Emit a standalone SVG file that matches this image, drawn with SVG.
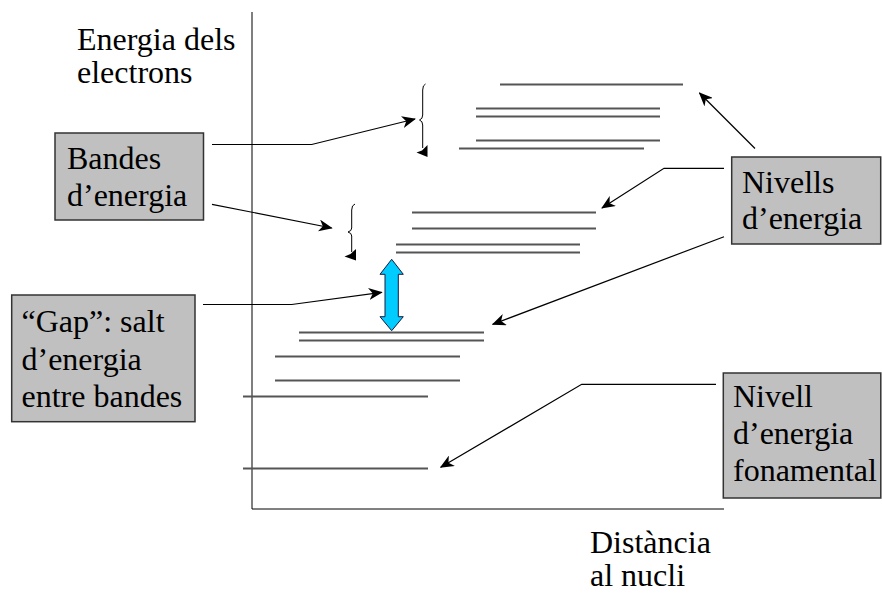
<svg xmlns="http://www.w3.org/2000/svg" width="882" height="593" viewBox="0 0 882 593">
<style>
text{font-family:"Liberation Serif","DejaVu Serif","Noto Serif",serif;font-size:32px;fill:#000}
.box{fill:#C0C0C0;stroke:#333;stroke-width:1.5}
.lvl{stroke:#555;stroke-width:2;fill:none}
.axis{stroke:#000;stroke-width:1;fill:none}
.arrow{stroke:#000;stroke-width:1.2;fill:none;marker-end:url(#ah)}
.brace{stroke:#000;stroke-width:1;fill:none}
</style>
<defs>
<marker id="ah" markerUnits="userSpaceOnUse" viewBox="0 0 14 12" markerWidth="14" markerHeight="12" refX="13" refY="6" orient="auto">
<path d="M0,0 L14,6 L0,12 L4,6 Z" fill="#000"/>
</marker>
</defs>
<rect width="882" height="593" fill="#fff"/>

<g id="axes">
<line class="axis" x1="252" y1="12" x2="252" y2="509"/>
<line class="axis" x1="252" y1="509" x2="724" y2="509"/>
</g>

<g id="levels">
<line class="lvl" x1="500" y1="84.5" x2="683" y2="84.5"/>
<line class="lvl" x1="476" y1="108.5" x2="660" y2="108.5"/>
<line class="lvl" x1="476" y1="116.5" x2="660" y2="116.5"/>
<line class="lvl" x1="476" y1="140.5" x2="660" y2="140.5"/>
<line class="lvl" x1="459" y1="148.5" x2="644" y2="148.5"/>
<line class="lvl" x1="412" y1="212.5" x2="596" y2="212.5"/>
<line class="lvl" x1="412" y1="228.5" x2="596" y2="228.5"/>
<line class="lvl" x1="396" y1="244.5" x2="580" y2="244.5"/>
<line class="lvl" x1="396" y1="252.5" x2="580" y2="252.5"/>
<line class="lvl" x1="299" y1="332.5" x2="484" y2="332.5"/>
<line class="lvl" x1="299" y1="340.5" x2="484" y2="340.5"/>
<line class="lvl" x1="275" y1="356.5" x2="460" y2="356.5"/>
<line class="lvl" x1="275" y1="380.5" x2="460" y2="380.5"/>
<line class="lvl" x1="243" y1="396.5" x2="428" y2="396.5"/>
<line class="lvl" x1="243" y1="468.5" x2="428" y2="468.5"/>
</g>

<g id="brace1">
<path class="brace" d="M425.5,84 Q422.7,85 422.7,90 L422.7,115 Q422.7,119 419.5,120 Q422.7,121 422.7,125 L422.7,148"/>
<path d="M427.5,145 L427.5,157 L416.5,152.5 L422,150.5 Z" fill="#000"/>
</g>
<g id="brace2">
<path class="brace" d="M355,204 Q351.7,205 351.7,210 L351.7,228 Q351.7,231 348,232 Q351.7,233 351.7,236 L351.7,252"/>
<path d="M356,249 L356,260.5 L344.5,256.5 L350.5,254 Z" fill="#000"/>
</g>

<g id="gap-arrow">
<polygon points="391.7,259.3 403.3,274.3 398.3,274.3 398.3,316.7 403.3,316.7 391.7,330.7 380,316.7 385,316.7 385,274.3 380,274.3" fill="#00CCFF" stroke="#1a1a40" stroke-width="1"/>
</g>

<g id="connectors">
<polyline class="arrow" points="212,144.5 311.7,144.5 415,119"/>
<polyline class="arrow" points="212,204.3 331.7,228"/>
<polyline class="arrow" points="203,304.5 291.7,304.5 381.7,292.3"/>
<polyline class="arrow" points="755,148.5 699.5,93"/>
<polyline class="arrow" points="724,168.3 664,168.3 602,208"/>
<polyline class="arrow" points="724,236.7 492.7,324.3"/>
<polyline class="arrow" points="716,384.3 581.7,384.3 440.7,467.3"/>
</g>

<g id="label-energia" font-family="Liberation Serif, serif">
<text x="77" y="50">Energia dels</text>
<text x="77" y="83">electrons</text>
</g>

<g id="label-distancia" font-family="Liberation Serif, serif">
<text x="590" y="553">Distància</text>
<text x="590" y="586">al nucli</text>
</g>

<g id="node-bandes" font-family="Liberation Serif, serif">
<rect class="box" x="55" y="133" width="148.5" height="87"/>
<text x="67" y="169">Bandes</text>
<text x="67" y="206">d’energia</text>
</g>

<g id="node-gap" font-family="Liberation Serif, serif">
<rect class="box" x="11.7" y="295" width="183.3" height="126.7"/>
<text x="21.5" y="332">“Gap”: salt</text>
<text x="21.5" y="370">d’energia</text>
<text x="21.5" y="407">entre bandes</text>
</g>

<g id="node-nivells" font-family="Liberation Serif, serif">
<rect class="box" x="731.7" y="157" width="149" height="87"/>
<text x="742" y="193">Nivells</text>
<text x="742" y="229">d’energia</text>
</g>

<g id="node-fonamental" font-family="Liberation Serif, serif">
<rect class="box" x="723.3" y="373" width="157.5" height="125"/>
<text x="733" y="407">Nivell</text>
<text x="733" y="444">d’energia</text>
<text x="733" y="481">fonamental</text>
</g>
</svg>
